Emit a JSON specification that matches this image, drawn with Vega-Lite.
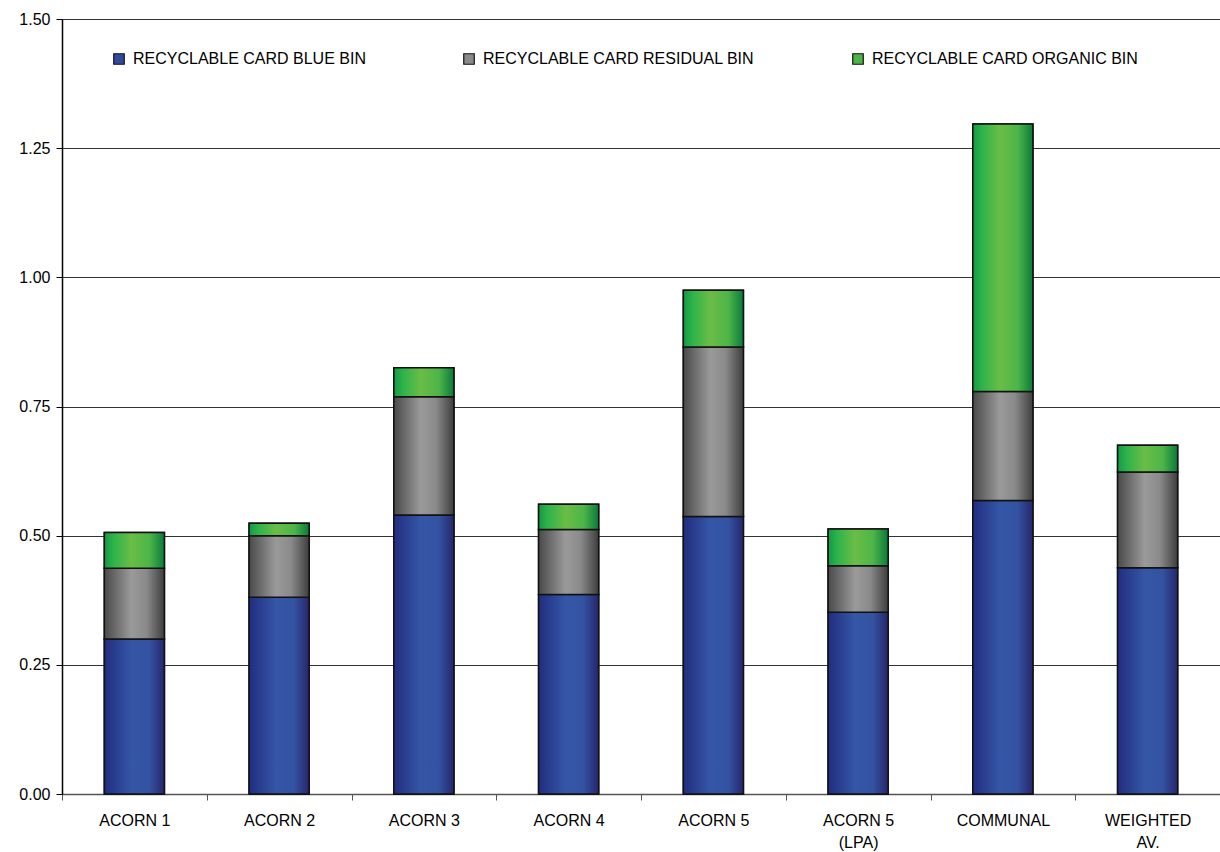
{
  "$schema": "https://vega.github.io/schema/vega-lite/v6.json",
  "autosize": {"type": "none"},
  "width": 1158,
  "height": 775,
  "padding": {"left": 62, "top": 19, "right": 0, "bottom": 58},
  "background": "white",
  "config": {
    "font": "Liberation Sans",
    "view": {"stroke": null}
  },
  "data": {
    "values": [
      {"group": "ACORN 1", "series": "RECYCLABLE CARD BLUE BIN", "k": 1, "value": 0.300},
      {"group": "ACORN 1", "series": "RECYCLABLE CARD RESIDUAL BIN", "k": 2, "value": 0.137},
      {"group": "ACORN 1", "series": "RECYCLABLE CARD ORGANIC BIN", "k": 3, "value": 0.069},
      {"group": "ACORN 2", "series": "RECYCLABLE CARD BLUE BIN", "k": 1, "value": 0.381},
      {"group": "ACORN 2", "series": "RECYCLABLE CARD RESIDUAL BIN", "k": 2, "value": 0.119},
      {"group": "ACORN 2", "series": "RECYCLABLE CARD ORGANIC BIN", "k": 3, "value": 0.024},
      {"group": "ACORN 3", "series": "RECYCLABLE CARD BLUE BIN", "k": 1, "value": 0.540},
      {"group": "ACORN 3", "series": "RECYCLABLE CARD RESIDUAL BIN", "k": 2, "value": 0.229},
      {"group": "ACORN 3", "series": "RECYCLABLE CARD ORGANIC BIN", "k": 3, "value": 0.056},
      {"group": "ACORN 4", "series": "RECYCLABLE CARD BLUE BIN", "k": 1, "value": 0.386},
      {"group": "ACORN 4", "series": "RECYCLABLE CARD RESIDUAL BIN", "k": 2, "value": 0.126},
      {"group": "ACORN 4", "series": "RECYCLABLE CARD ORGANIC BIN", "k": 3, "value": 0.049},
      {"group": "ACORN 5", "series": "RECYCLABLE CARD BLUE BIN", "k": 1, "value": 0.537},
      {"group": "ACORN 5", "series": "RECYCLABLE CARD RESIDUAL BIN", "k": 2, "value": 0.328},
      {"group": "ACORN 5", "series": "RECYCLABLE CARD ORGANIC BIN", "k": 3, "value": 0.110},
      {"group": "ACORN 5 (LPA)", "series": "RECYCLABLE CARD BLUE BIN", "k": 1, "value": 0.352},
      {"group": "ACORN 5 (LPA)", "series": "RECYCLABLE CARD RESIDUAL BIN", "k": 2, "value": 0.090},
      {"group": "ACORN 5 (LPA)", "series": "RECYCLABLE CARD ORGANIC BIN", "k": 3, "value": 0.071},
      {"group": "COMMUNAL", "series": "RECYCLABLE CARD BLUE BIN", "k": 1, "value": 0.568},
      {"group": "COMMUNAL", "series": "RECYCLABLE CARD RESIDUAL BIN", "k": 2, "value": 0.211},
      {"group": "COMMUNAL", "series": "RECYCLABLE CARD ORGANIC BIN", "k": 3, "value": 0.518},
      {"group": "WEIGHTED AV.", "series": "RECYCLABLE CARD BLUE BIN", "k": 1, "value": 0.438},
      {"group": "WEIGHTED AV.", "series": "RECYCLABLE CARD RESIDUAL BIN", "k": 2, "value": 0.185},
      {"group": "WEIGHTED AV.", "series": "RECYCLABLE CARD ORGANIC BIN", "k": 3, "value": 0.052}
    ]
  },
  "transform": [
    {"stack": "value", "groupby": ["group"], "sort": [{"field": "k", "order": "ascending"}], "as": ["v0", "v1"]}
  ],
  "encoding": {
    "x": {
      "field": "group",
      "type": "nominal",
      "sort": null,
      "scale": {"paddingInner": 0, "paddingOuter": 0},
      "axis": {
        "title": null,
        "labelAngle": 0,
        "labelFontSize": 16,
        "labelColor": "#000000",
        "labelPadding": 12,
        "labelLineHeight": 22,
        "labelExpr": "datum.value == 'ACORN 5 (LPA)' ? ['ACORN 5', '(LPA)'] : datum.value == 'WEIGHTED AV.' ? ['WEIGHTED', 'AV.'] : datum.value",
        "domainColor": "#555555",
        "domainWidth": 1.5,
        "tickColor": "#555555",
        "tickSize": 6,
        "tickBand": "extent",
        "grid": false
      }
    },
    "y": {
      "field": "v1",
      "type": "quantitative",
      "scale": {"domain": [0, 1.5], "nice": false},
      "axis": {
        "title": null,
        "values": [0, 0.25, 0.5, 0.75, 1, 1.25, 1.5],
        "format": ".2f",
        "labelFontSize": 16,
        "labelColor": "#000000",
        "labelPadding": 6,
        "domainColor": "#000000",
        "domainWidth": 1.5,
        "tickColor": "#000000",
        "tickSize": 6,
        "gridColor": "#333333",
        "gridWidth": 1
      }
    },
    "y2": {"field": "v0"}
  },
  "layer": [
    {
      "mark": {"type": "bar", "width": {"band": 0.415}, "stroke": "#111111", "strokeWidth": 1.5},
      "encoding": {
        "color": {
          "field": "series",
          "type": "nominal",
          "scale": {
            "domain": ["RECYCLABLE CARD BLUE BIN", "RECYCLABLE CARD RESIDUAL BIN", "RECYCLABLE CARD ORGANIC BIN"],
            "range": ["#2f4a9c", "#8a8a8a", "#4cb548"]
          },
          "legend": {
            "title": null,
            "orient": "none",
            "legendX": 49,
            "legendY": 32,
            "direction": "horizontal",
            "columns": 3,
            "columnPadding": 95,
            "symbolType": "square",
            "symbolSize": 110,
            "symbolStrokeColor": "#111111",
            "symbolStrokeWidth": 1.2,
            "labelFontSize": 16,
            "labelColor": "#000000",
            "labelOffset": 6,
            "labelLimit": 400
          }
        }
      }
    },
    {
      "transform": [{"filter": "datum.k == 1"}],
      "mark": {"type": "bar", "width": {"band": 0.415}, "stroke": "#111111", "strokeWidth": 1.5,
        "color": {"gradient": "linear", "x1": 0, "y1": 0, "x2": 1, "y2": 0, "stops": [{"offset": 0, "color": "#222d80"}, {"offset": 0.45, "color": "#3556a6"}, {"offset": 0.75, "color": "#3352a2"}, {"offset": 1, "color": "#27266b"}]}}
    },
    {
      "transform": [{"filter": "datum.k == 2"}],
      "mark": {"type": "bar", "width": {"band": 0.415}, "stroke": "#111111", "strokeWidth": 1.5,
        "color": {"gradient": "linear", "x1": 0, "y1": 0, "x2": 1, "y2": 0, "stops": [{"offset": 0, "color": "#4a4a4a"}, {"offset": 0.45, "color": "#9a9a9a"}, {"offset": 0.7, "color": "#8a8a8a"}, {"offset": 1, "color": "#3e3e3e"}]}}
    },
    {
      "transform": [{"filter": "datum.k == 3"}],
      "mark": {"type": "bar", "width": {"band": 0.415}, "stroke": "#111111", "strokeWidth": 1.5,
        "color": {"gradient": "linear", "x1": 0, "y1": 0, "x2": 1, "y2": 0, "stops": [{"offset": 0, "color": "#139a45"}, {"offset": 0.15, "color": "#2db34a"}, {"offset": 0.45, "color": "#6abd46"}, {"offset": 0.75, "color": "#4db548"}, {"offset": 1, "color": "#0a7a3c"}]}}
    }
  ]
}
